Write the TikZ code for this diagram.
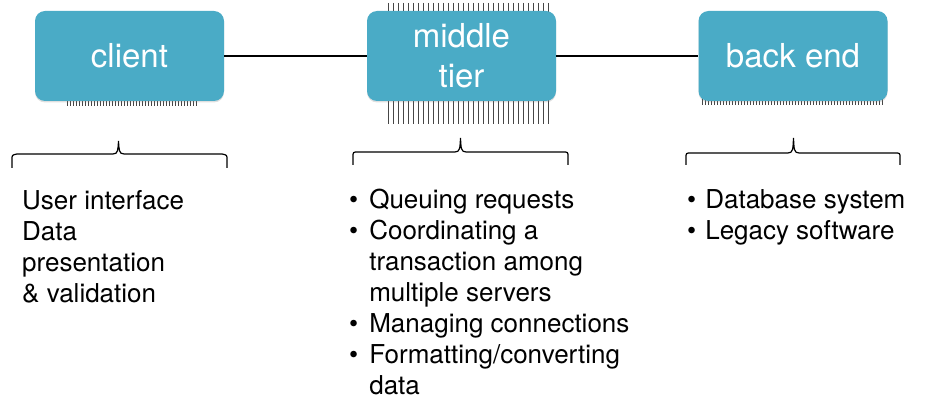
\documentclass[tikz,border=0pt]{standalone}
\usepackage{fontspec}
\setmainfont{TeX Gyre Heros}
\usetikzlibrary{shadows}
\definecolor{boxblue}{RGB}{74,171,198}
\definecolor{tickgray}{RGB}{70,70,70}
\tikzset{
  tierbox/.style={draw=none, fill=boxblue, rounded corners=10pt, minimum width=189pt, minimum height=90pt,
    inner sep=0pt, text=white, align=center, font=\fontsize{33}{40}\selectfont,
    drop shadow={opacity=0.25, shadow xshift=0pt, shadow yshift=-1.5pt}},
  link/.style={draw=black, line width=1.3pt},
  tick/.style={draw=tickgray, line width=0.7pt},
  bracepath/.style={draw=black, line width=1.2pt},
  listtext/.style={anchor=base west, inner sep=0pt, font=\fontsize{26}{31}\selectfont}
}
\begin{document}
\begin{tikzpicture}[x=1pt,y=-1pt]
\useasboundingbox (0,0) rectangle (927,406);
% ticks (behind boxes)
\foreach \x in {67,70,...,196} \draw[tick] (\x,99) -- (\x,106);
\foreach \x in {388,393,...,548} \draw[tick] (\x,3) -- (\x,14);
\foreach \x in {388,393,...,548} \draw[tick] (\x,98) -- (\x,124);
\foreach \x in {702,705,...,883} \draw[tick] (\x,98) -- (\x,105);
% boxes
\node[tierbox] (client) at (129.5,56) {client};
\node[tierbox] (middle) at (461.5,56) {middle\\tier};
\node[tierbox] (backend) at (793,56) {back end};
% connectors
\draw[link] (client.east) -- (middle.west);
\draw[link] (middle.east) -- (backend.west);
% braces
\draw[bracepath] (12,168) -- (12,160) .. controls (12,155) .. (17,154) -- (113,154) .. controls (118,154) and (118,150) .. (118.5,141)
  .. controls (119,150) and (119,154) .. (124,154) -- (222,154) .. controls (227,155) .. (227,160) -- (227,168);
\draw[bracepath] (353,165) -- (353,157) .. controls (353,152) .. (358,152) -- (455,152) .. controls (460,152) and (460,148) .. (460.5,138)
  .. controls (461,148) and (461,152) .. (466,152) -- (563,152) .. controls (568,152) .. (568,157) -- (568,165);
\draw[bracepath] (686,165) -- (686,158) .. controls (686,153) .. (691,153) -- (788,153) .. controls (793,153) and (793,149) .. (793.5,138)
  .. controls (794,149) and (794,153) .. (799,153) -- (895,153) .. controls (900,153) .. (900,158) -- (900,165);
% texts
\node[listtext] (clienttext) at (22,210) {\begin{tabular}[t]{@{}l@{}}
User interface\\Data\\presentation\\\& validation
\end{tabular}};
\node[listtext] (middletext) at (349,209) {\begin{tabular}[t]{@{}l@{\hspace{11pt}}l@{}}
\textbullet & Queuing requests\\
\textbullet & Coordinating a\\
 & transaction among\\
 & multiple servers\\
\textbullet & Managing connections\\
\textbullet & Formatting/converting\\
 & data
\end{tabular}};
\node[listtext] (backtext) at (687,209) {\begin{tabular}[t]{@{}l@{\hspace{9pt}}l@{}}
\textbullet & Database system\\
\textbullet & Legacy software
\end{tabular}};
\end{tikzpicture}
\end{document}
